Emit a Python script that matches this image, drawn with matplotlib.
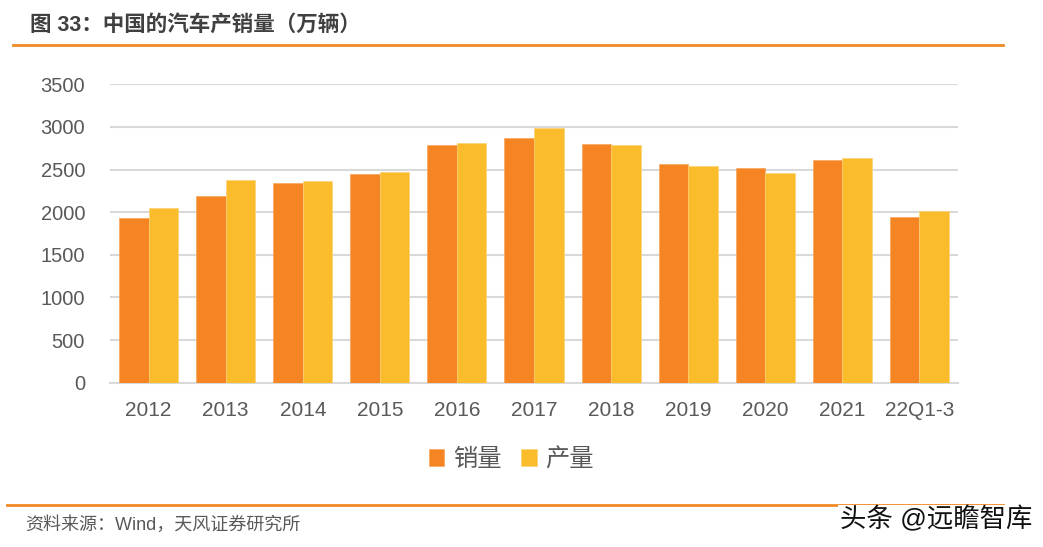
import matplotlib
matplotlib.use("Agg")
import matplotlib.pyplot as plt
import numpy as np

plt.rcParams['font.family'] = ['Liberation Sans', 'Noto Sans CJK SC', 'DejaVu Sans']

# 数据（从图中读取，单位：万辆）
categories = ['2012', '2013', '2014', '2015', '2016', '2017', '2018', '2019', '2020', '2021', '22Q1-3']
sales = [1930, 2190, 2346, 2450, 2792, 2873, 2796, 2567, 2520, 2617, 1938]
production = [2050, 2381, 2366, 2474, 2808, 2983, 2785, 2544, 2454, 2640, 2008]
series_names = ['销量', '产量']

orange = '#F58522'
yellow = '#FBBC2C'
text_gray = '#595959'
line_orange = '#F08A24'

fig = plt.figure(figsize=(10.43, 5.47), dpi=100)
ax = fig.add_axes([0.1055, 0.3004, 0.813, 0.5455])

x = np.arange(len(categories))
w = 0.383
ax.bar(x - w / 2, sales, width=w, color=orange, edgecolor='#F8A65C', linewidth=0.5, label=series_names[0], zorder=3)
ax.bar(x + w / 2, production, width=w, color=yellow, edgecolor='#FDD27A', linewidth=0.5, label=series_names[1], zorder=3)

ax.set_xlim(-0.5, len(categories) - 0.5)
ax.set_ylim(0, 3500)
ax.set_yticks(np.arange(0, 3501, 500))
ax.set_xticks(x)
ax.set_xticklabels(categories)
ax.grid(axis='y', color='#D9D9D9', linewidth=1.5, zorder=0)
for s in ['top', 'right', 'left']:
    ax.spines[s].set_visible(False)
ax.spines['bottom'].set_color('#D9D9D9')
ax.spines['bottom'].set_linewidth(1.5)
ax.tick_params(axis='both', length=0, labelsize=15, labelcolor=text_gray)
ax.tick_params(axis='y', labelsize=14.5, pad=18)
ax.tick_params(axis='x', pad=13)

# 图例
leg = fig.legend(loc='center', bbox_to_anchor=(0.49, 0.16), ncol=2, frameon=False,
                 fontsize=17.5, handlelength=0.65, handleheight=0.65, handletextpad=0.35,
                 columnspacing=0.8)
for t in leg.get_texts():
    t.set_color(text_gray)

# 标题与分隔线
fig.text(30 / 1043, 1 - 25 / 547, '图 33：中国的汽车产销量（万辆）', fontsize=15.5, fontweight='bold',
         color='#404040', va='center', ha='left')
fig.add_artist(plt.Line2D([13 / 1043, 1003 / 1043], [1 - 45 / 547] * 2, color=line_orange, linewidth=2))
fig.add_artist(plt.Line2D([7 / 1043, 1003 / 1043], [1 - 505 / 547] * 2, color=line_orange, linewidth=2))

# 资料来源
fig.text(25 / 1043, 1 - 525 / 547, '资料来源：Wind，天风证券研究所', fontsize=13, color=text_gray,
         va='center', ha='left')

# 水印
fig.text(1032 / 1043, 1 - 519 / 547, '头条 @远瞻智库', fontsize=19, color='#111111',
         va='center', ha='right', bbox=dict(facecolor='white', edgecolor='none', pad=1))

fig.savefig('out.png', dpi=100)
